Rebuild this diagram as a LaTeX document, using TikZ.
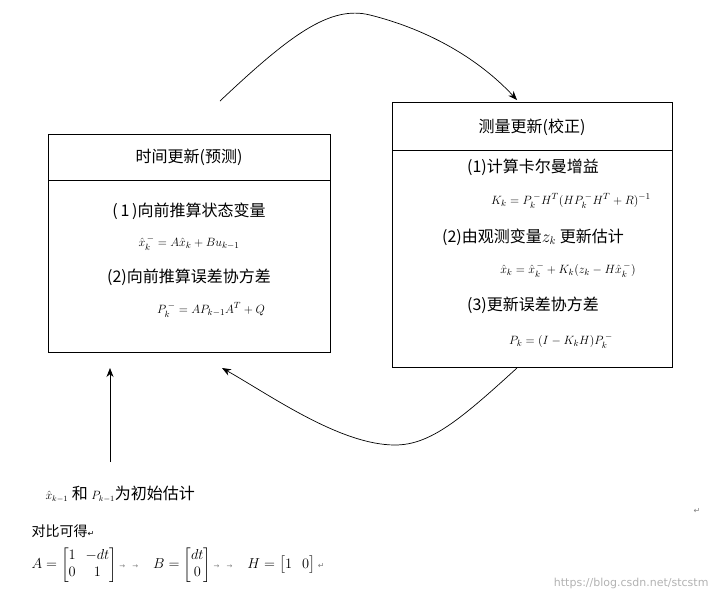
\documentclass[tikz,border=0pt]{standalone}
\usepackage{fontspec}
\usepackage{amsmath}
\newfontfamily\cjk{Noto Sans CJK SC}
\newfontfamily\dvs{DejaVu Sans}
\usetikzlibrary{arrows.meta}
\begin{document}
\begin{tikzpicture}[x=1pt,y=-1pt,
  box/.style={draw,line width=0.8pt},
  cn/.style={font=\cjk\fontsize{16}{18}\selectfont},
  fm/.style={font=\fontsize{12.5}{14}\selectfont},
  conn/.style={line width=0.7pt,-{Stealth[length=9pt,width=7pt]}}]
\useasboundingbox (0,0) rectangle (721,603);
\draw[box] (48,134) rectangle (330,352);
\draw[box] (48,180) -- (330,180);
\draw[box] (392,102) rectangle (672,367);
\draw[box] (392,150) -- (672,150);
\node[cn] (lt) at (189,157) {时间更新(预测)};
\node[cn] (l1) at (189,211) {(\,1\,)向前推算状态变量};
\node[fm] (lf1) at (189,243) {$\hat{x}_k^{\,-}=A\hat{x}_k+Bu_{k-1}$};
\node[cn] (l2) at (189,277) {(2)向前推算误差协方差};
\node[fm] (lf2) at (211,310) {$P_k^{\,-}=AP_{k-1}A^{T}+Q$};
\node[cn] (rt) at (532,127) {测量更新(校正)};
\node[cn] (r1) at (533,167) {(1)计算卡尔曼增益};
\node[fm] (rf1) at (571,201) {$K_k=P_k^{\,-}H^{T}(HP_k^{\,-}H^{T}+R)^{-1}$};
\node[cn] (r2) at (533,237) {(2)由观测变量$z_k$ 更新估计};
\node[fm] (rf2) at (568,270) {$\hat{x}_k=\hat{x}_k^{\,-}+K_k(z_k-H\hat{x}_k^{\,-})$};
\node[cn] (r3) at (533,305) {(3)更新误差协方差};
\node[fm] (rf3) at (561,341) {$P_k=(I-K_kH)P_k^{\,-}$};
\coordinate (a1) at (220,101);
\coordinate (a2) at (517,100);
\draw[conn] (a1) .. controls (290,35) and (330,5) .. (370,15) .. controls (430,30) and (480,60) .. (a2);
\coordinate (b1) at (517,368);
\coordinate (b2) at (222,368);
\draw[conn] (b1) .. controls (460,420) and (430,445) .. (395,445) .. controls (340,445) and (270,395) .. (b2);
\coordinate (c1) at (110,462);
\coordinate (c2) at (110,368);
\draw[conn] (c1) -- (c2);
\node[cn,anchor=west] (init) at (42,494) {\fontsize{12}{13}\selectfont$\hat{x}_{k-1}$\fontsize{16}{18}\selectfont\ 和 \fontsize{12}{13}\selectfont$P_{k-1}$\fontsize{16}{18}\selectfont 为初始估计};
\node[cn,anchor=west,font=\cjk\fontsize{14}{16}\selectfont] (cmp) at (28,531) {对比可得{\dvs\fontsize{8}{9}\selectfont ↵}};
\node[anchor=west,font=\fontsize{15}{17}\selectfont] (mat) at (28,565) {$A=\begin{bmatrix}1&-dt\\0&1\end{bmatrix}$\,{\dvs\fontsize{7}{8}\selectfont\color{gray} →\quad →}\quad $B=\begin{bmatrix}dt\\0\end{bmatrix}$\,{\dvs\fontsize{7}{8}\selectfont\color{gray} →\quad →}\quad $H=\begin{bmatrix}1&0\end{bmatrix}$\,{\dvs\fontsize{8}{9}\selectfont\color{gray}↵}};
\node[font=\dvs\fontsize{8}{9}\selectfont,text=gray] (ret) at (697,511) {↵};
\node[anchor=east,font=\dvs\fontsize{11}{13}\selectfont,text=gray!60] (wm) at (712,583) {https://blog.csdn.net/stcstm};
\end{tikzpicture}
\end{document}
